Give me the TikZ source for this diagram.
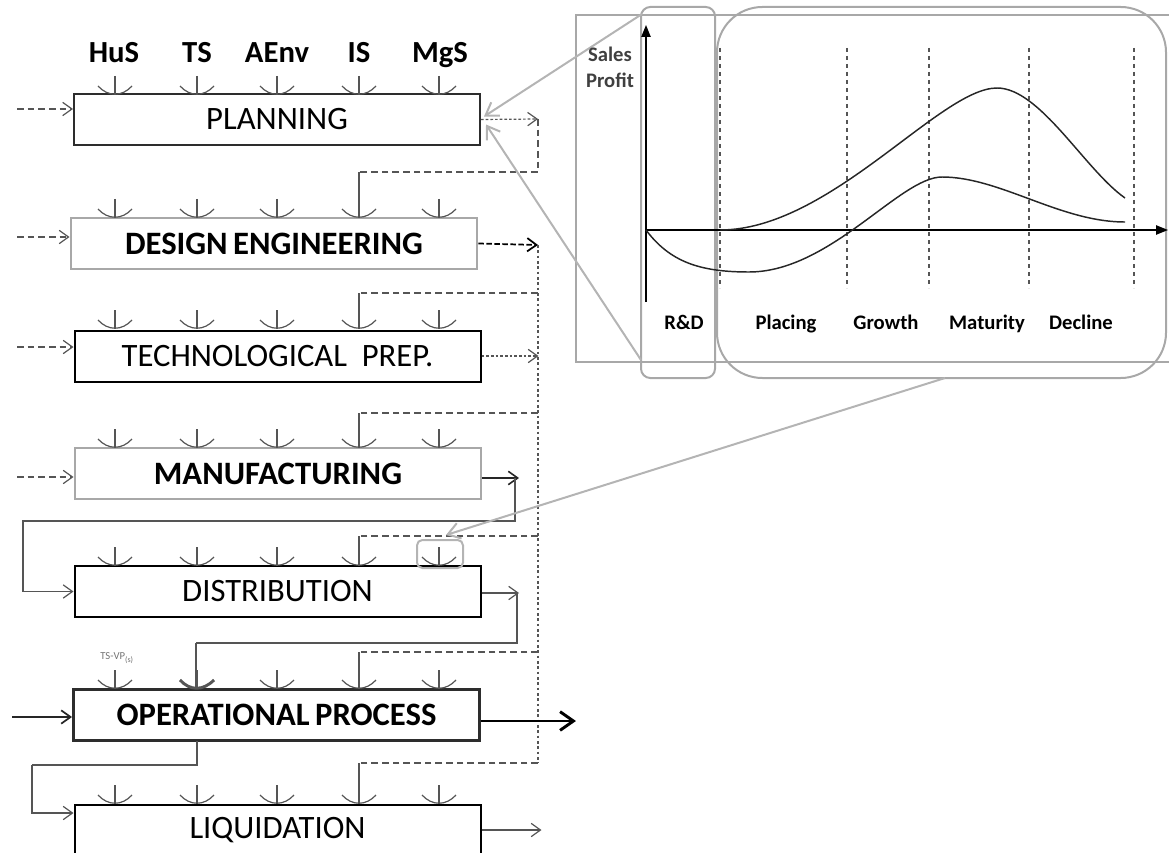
\documentclass[tikz,border=0pt]{standalone}
\usepackage{fontspec}
\setmainfont{Carlito}
\usetikzlibrary{arrows.meta,calc}

\definecolor{linegray}{RGB}{85,85,85}
\definecolor{framegray}{RGB}{168,168,168}
\definecolor{zoomgray}{RGB}{180,180,180}
\definecolor{boxdark}{RGB}{45,45,45}

\tikzset{every picture/.style={line width=0.75pt}}
\tikzset{
  stage/.style={rectangle, minimum width=304.5pt, minimum height=38.25pt, inner sep=0pt, font=\fontsize{24.5}{28}\selectfont},
  stagethin/.style={stage, draw=boxdark, line width=1.5pt},
  stageblack/.style={stage, draw=black, line width=1.5pt},
  stagegray/.style={stage, draw=framegray, line width=2.2pt, font=\fontsize{24.5}{28}\selectfont\bfseries},
  stagebold/.style={stage, draw=boxdark, line width=2.2pt, font=\fontsize{24.5}{28}\selectfont\bfseries},
  inlabel/.style={inner sep=0pt, anchor=base, font=\fontsize{23}{26}\selectfont\bfseries},
  phaselabel/.style={inner sep=0pt, anchor=base, font=\fontsize{15.5}{18}\selectfont\bfseries},
  sock/.style={draw=linegray, line width=0.9pt},
  barb/.style={-{Straight Barb[length=7pt,width=10pt]}},
  dashin/.style={barb, draw=linegray, dash pattern=on 5pt off 3pt, line width=0.9pt},
  solidin/.style={barb, draw=linegray, line width=0.9pt},
  flow/.style={draw=linegray, line width=0.9pt},
  dotout/.style={barb, draw=linegray, dash pattern=on 2pt off 1.5pt, line width=0.9pt},
  darkdash/.style={barb, draw=black, dash pattern=on 4pt off 2pt, line width=1.3pt},
  fbdash/.style={draw=linegray, dash pattern=on 5pt off 3pt, line width=0.9pt},
  fbdot/.style={draw=linegray, dash pattern=on 2pt off 2pt, line width=0.9pt},
  bigout/.style={-{Straight Barb[length=10pt,width=14pt]}, draw=black, line width=2.2pt},
  zoomline/.style={-{Straight Barb[length=9pt,width=12pt]}, draw=zoomgray, line width=1.5pt},
  axis/.style={-{Triangle[length=9pt,width=7pt]}, draw=black, line width=1pt},
  phase/.style={draw=linegray, dash pattern=on 3pt off 3pt, line width=1pt},
  curve/.style={draw=black!85, line width=1.1pt}
}

\begin{document}
\begin{tikzpicture}[x=0.75pt,y=0.75pt,yscale=-1,xscale=1]
	\useasboundingbox (0,0) rectangle (1169,852);

	%Shape: Rectangle
	\node[stagethin] (plan) at (277,119.5) {PLANNING};
	%Shape: Rectangle
	\node[stagegray] (design) at (274,243.5) {DESIGN\,ENGINEERING};
	%Shape: Rectangle
	\node[stageblack] (tech) at (277.5,356) {TECHNOLOGICAL\ \ PREP.};
	%Shape: Rectangle
	\node[stagegray] (manuf) at (278,473.5) {MANUFACTURING};
	%Shape: Rectangle
	\node[stageblack] (distr) at (277.5,591.5) {DISTRIBUTION};
	%Shape: Rectangle
	\node[stagebold] (oper) at (276.5,715) {OPERATIONAL\,PROCESS};
	%Shape: Rectangle
	\node[stageblack] (liq) at (277.5,830) {LIQUIDATION};

	% Text Node
	\node[inlabel] (hus) at (114,63) {HuS};
	\node[inlabel] (ts) at (197,63) {TS};
	\node[inlabel] (aenv) at (277,63) {AEnv};
	\node[inlabel] (is) at (359,63) {IS};
	\node[inlabel] (mgs) at (440,63) {MgS};
	% Text Node
	\node[inner sep=0pt, text=black!55, font=\fontsize{8}{9}\selectfont] (tsvp) at (117,658) {TS-VP\textsubscript{(s)}};

	%Shape: inputs on every stage
	\foreach \yt in {95,218,329,448,566,689,804}
	  \foreach \x in {115,197,277,359,439}
	  {
	    \draw[sock] (\x,\yt-19) -- (\x,\yt-1);
	    \draw[sock] (\x-17,\yt-9) .. controls (\x-7,\yt+2) and (\x+7,\yt+2) .. (\x+17,\yt-9);
	  }

	%Straight Lines
	\coordinate (inA) at (17,109);
	\coordinate (inB) at (17,237);
	\coordinate (inC) at (17,347);
	\coordinate (inD) at (17,477);
	\coordinate (inF) at (12,717);
	\draw[dashin] (inA) -- (inA -| plan.west);
	\draw[dashin] (inB) -- (inB -| design.west);
	\draw[dashin] (inC) -- (inC -| tech.west);
	\draw[dashin] (inD) -- (inD -| manuf.west);
	\draw[solidin, draw=black!85, line width=1.3pt] (inF) -- (inF -| oper.west);

	%Straight Lines
	\coordinate (fbA) at (538,119);
	\coordinate (fbB) at (538,245);
	\draw[dotout] (plan.east) -- (fbA);
	\draw[fbdash] (fbA) -- (538,172) -- (359,172);
	\draw[sock] (359,172) -- (359,199);
	\draw[darkdash] (design.east) -- (fbB);
	\draw[fbdot] (fbB) -- (538,763);
	\foreach \yh/\yt in {293/329, 413/448, 536/566, 652/689, 763/804}
	  {
	    \draw[fbdash] (538,\yh) -- (359,\yh);
	    \draw[sock] (359,\yh) -- (359,\yt-19);
	  }
	\draw[dotout] (tech.east) -- ($(tech.east)+(57,0)$);

	%Straight Lines
	\coordinate (mA) at (519,478);
	\draw[solidin, draw=black!85, line width=1.2pt] (manuf.east |- mA) -- (mA);
	\draw[solidin] (515,478) -- (515,521) -- (23,521) -- (23,591.5) -- (distr.west);
	\coordinate (dA) at (519,593);
	\draw[solidin] (distr.east |- dA) -- (dA);
	\draw[flow] (517,593) |- (196,643);
	\draw[sock, line width=2.2pt] (196,643) -- (196,687);
	\draw[sock, line width=2.2pt] (180,680) .. controls (190,691) and (203,691) .. (214,680);
	\draw[bigout] ($(oper.east)+(0,6)$) -- ++(95,0);

	%Straight Lines
	\coordinate (oA) at (197,741);
	\coordinate (oB) at (197,765);
	\coordinate (oC) at (32,765);
	\coordinate (lA) at (32,813);
	\draw[flow] (oA) -- (oB) -- (oC);
	\draw[solidin] (oC) -- (lA) -- (lA -| liq.west);
	\draw[solidin] (liq.east) -- ++(60,0);

	%Shape: Rounded Rectangle
	\node[draw=zoomgray, line width=1.5pt, rounded corners=4pt, minimum width=34.5pt, minimum height=21pt] (focus) at (440,554) {};

	%Shape: chart frame
	\draw[draw=framegray, line width=1pt] (576,15) rectangle (1190,362);
	\node[draw=framegray, line width=1.5pt, rounded corners=7pt, minimum width=55.5pt, minimum height=278.25pt] (rd) at (678,192.5) {};
	\node[draw=framegray, line width=1.5pt, rounded corners=34pt, minimum width=336.75pt, minimum height=278.25pt] (life) at (941.5,192.5) {};

	%Straight Lines
	\coordinate (zA) at (642,14);
	\coordinate (zB) at (641,360);
	\draw[zoomline] (zA) -- ($(plan.east)+(3,-3)$);
	\draw[zoomline] (zB) -- ($(plan.east)+(5,5)$);
	\draw[zoomline] (945,378) -- ($(focus.north)+(6,-4)$);

	%Straight Lines
	\coordinate (org) at (646,230);
	\draw[axis] (646,302) -- (646,25);
	\draw[axis] (org) -- (1168,230);
	\foreach \x in {720,847,929,1029,1134}
	  \draw[phase] (\x,48) -- (\x,288);

	%Curve Lines
	\draw[curve] (720,230) .. controls (830,230) and (940,88) .. (997,88) .. controls (1040,88) and (1085,170) .. (1125,198);
	\draw[curve] (org) .. controls (670,262) and (700,272) .. (749,272) .. controls (830,272) and (900,177) .. (942,177) .. controls (1000,177) and (1060,222) .. (1125,222);

	% Text Node
	\node[phaselabel, text=black!75] (sales) at (610,62) {Sales};
	\node[phaselabel, text=black!75] (profit) at (610,88) {Profit};
	\node[phaselabel] (rdl) at (684,329) {R\&D};
	\node[phaselabel] (placing) at (786,329) {Placing};
	\node[phaselabel] (growth) at (886,329) {Growth};
	\node[phaselabel] (maturity) at (987,329) {Maturity};
	\node[phaselabel] (decline) at (1081,329) {Decline};

\end{tikzpicture}
\end{document}
